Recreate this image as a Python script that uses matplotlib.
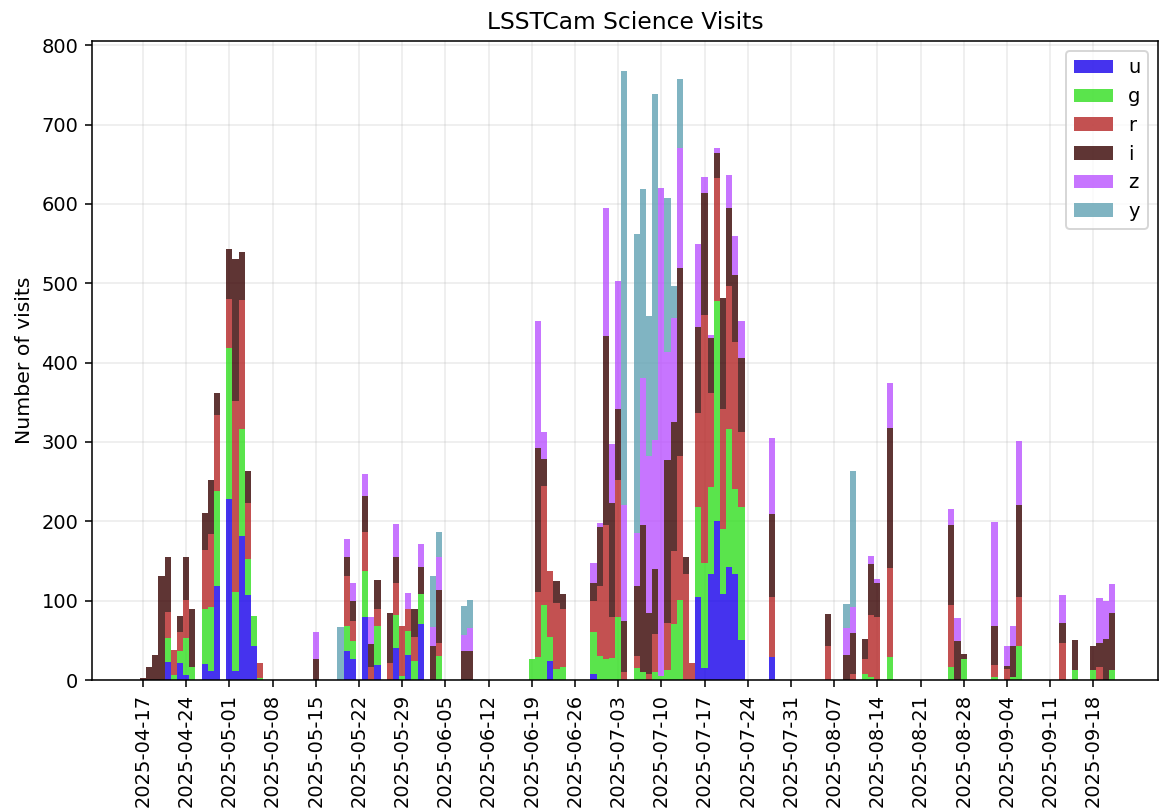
import numpy as np
import matplotlib
matplotlib.use("Agg")
from matplotlib import pyplot as plt
import matplotlib.dates as mdates

# nights (bin centre = midnight UTC, bins run noon to noon)
nights = [
    "2025-04-17", "2025-04-18", "2025-04-19", "2025-04-20", "2025-04-21", "2025-04-22",
    "2025-04-23", "2025-04-24", "2025-04-25", "2025-04-27", "2025-04-28", "2025-04-29",
    "2025-05-01", "2025-05-02", "2025-05-03", "2025-05-04", "2025-05-05", "2025-05-06",
    "2025-05-15", "2025-05-19", "2025-05-20", "2025-05-21", "2025-05-23", "2025-05-24",
    "2025-05-25", "2025-05-27", "2025-05-28", "2025-05-29", "2025-05-30", "2025-05-31",
    "2025-06-01", "2025-06-03", "2025-06-04", "2025-06-08", "2025-06-09",
    "2025-06-19", "2025-06-20", "2025-06-21", "2025-06-22", "2025-06-23", "2025-06-24",
    "2025-06-29", "2025-06-30", "2025-07-01", "2025-07-02", "2025-07-03", "2025-07-04",
    "2025-07-06", "2025-07-07", "2025-07-08", "2025-07-09", "2025-07-10", "2025-07-11",
    "2025-07-12", "2025-07-13", "2025-07-14", "2025-07-15", "2025-07-16", "2025-07-17",
    "2025-07-18", "2025-07-19", "2025-07-20", "2025-07-21", "2025-07-22", "2025-07-23",
    "2025-07-28", "2025-08-06", "2025-08-09", "2025-08-10", "2025-08-12", "2025-08-13",
    "2025-08-14", "2025-08-16", "2025-08-26", "2025-08-27", "2025-08-28",
    "2025-09-02", "2025-09-04", "2025-09-05", "2025-09-06", "2025-09-13", "2025-09-15",
    "2025-09-18", "2025-09-19", "2025-09-20", "2025-09-21",
]

u_visits = [
    0, 0, 0, 0, 23, 0, 22, 6, 0, 20, 11, 118,
    228, 11, 182, 107, 43, 0,
    0, 0, 37, 27, 80, 0, 19, 0, 40, 0, 31, 0, 70, 0, 0, 0, 0,
    0, 0, 0, 24, 0, 0,
    7, 0, 0, 0, 0, 0,
    0, 0, 0, 0, 0, 0, 0, 0, 0, 0, 104, 15,
    134, 200, 108, 142, 133, 51,
    29, 0, 0, 0, 0, 0, 0, 0, 0, 0, 0,
    0, 0, 0, 0, 0, 0, 0, 0, 0, 0,
]
g_visits = [
    0, 0, 0, 0, 30, 6, 15, 47, 16, 69, 81, 120,
    191, 100, 134, 45, 38, 2,
    0, 0, 31, 22, 58, 0, 49, 0, 42, 5, 31, 24, 38, 0, 30, 0, 0,
    26, 29, 94, 30, 14, 17,
    54, 30, 27, 28, 79, 0,
    15, 10, 0, 10, 5, 12, 70, 101, 0, 0, 114, 132,
    109, 278, 82, 174, 108, 167,
    0, 0, 0, 0, 7, 4, 0, 29, 17, 0, 26,
    4, 0, 4, 43, 0, 12, 12, 0, 0, 12,
]
r_visits = [
    0, 0, 0, 0, 33, 32, 23, 48, 0, 75, 92, 96,
    61, 240, 163, 71, 0, 20,
    0, 0, 63, 26, 48, 17, 21, 22, 40, 63, 27, 30, 0, 0, 17, 0, 0,
    0, 82, 151, 84, 83, 72,
    38, 89, 168, 51, 173, 10,
    15, 0, 7, 48, 0, 60, 92, 181, 134, 22, 118, 313,
    119, 155, 151, 181, 185, 94,
    75, 43, 0, 8, 19, 78, 80, 112, 77, 0, 0,
    15, 14, 0, 62, 47, 0, 0, 16, 0, 0,
]
i_visits = [
    3, 16, 31, 131, 69, 0, 21, 54, 73, 47, 68, 28,
    63, 180, 60, 41, 0, 0,
    27, 0, 24, 25, 46, 29, 37, 62, 33, 0, 0, 35, 34, 43, 67, 36, 36,
    0, 181, 34, 0, 28, 20,
    23, 74, 239, 144, 89, 64,
    89, 185, 77, 82, 0, 205, 163, 237, 21, 0, 109, 154,
    69, 31, 140, 98, 85, 94,
    105, 40, 32, 51, 26, 64, 42, 176, 101, 49, 7,
    49, 4, 39, 115, 25, 39, 31, 31, 52, 72,
]
z_visits = [
    0, 0, 0, 0, 0, 0, 0, 0, 0, 0, 0, 0,
    0, 0, 0, 0, 0, 0,
    34, 0, 23, 22, 27, 34, 0, 0, 42, 0, 21, 0, 29, 24, 41, 21, 30,
    0, 161, 34, 0, 0, 0,
    26, 5, 161, 74, 162, 147,
    66, 185, 198, 162, 615, 137, 131, 151, 0, 0, 104, 20,
    4, 6, 0, 42, 49, 46,
    96, 0, 34, 33, 0, 10, 5, 57, 20, 29, 0,
    131, 25, 25, 81, 35, 0, 0, 56, 48, 37,
]
y_visits = [
    0, 0, 0, 0, 0, 0, 0, 0, 0, 0, 0, 0,
    0, 0, 0, 0, 0, 0,
    0, 67, 0, 0, 0, 0, 0, 0, 0, 0, 0, 0, 0, 64, 32, 36, 35,
    0, 0, 0, 0, 0, 0,
    0, 0, 0, 0, 0, 546,
    377, 239, 177, 437, 0, 194, 41, 87, 0, 0, 0, 0,
    0, 0, 0, 0, 0, 0,
    0, 0, 30, 171, 0, 0, 0, 0, 0, 0, 0,
    0, 0, 0, 0, 0, 0, 0, 0, 0, 0,
]

filters = ["u", "g", "r", "i", "z", "y"]
filter_colors = ["#1600ea", "#31de1f", "#b52626", "#370201", "#ba52ff", "#61a2b3"]

centers = mdates.date2num(np.array(nights, dtype="datetime64[D]"))
edges = np.arange(
    mdates.date2num(np.datetime64("2025-04-16T12:00")),
    mdates.date2num(np.datetime64("2025-09-21T12:00")) + 0.5,
    1.0,
)

fig = plt.figure(figsize=(1159 / 140, 808 / 140), dpi=140)
ax = fig.add_subplot(111)
fig.subplots_adjust(left=0.0794, right=0.9991, bottom=0.1584, top=0.9493)

ax.hist(
    [centers] * len(filters),
    bins=edges,
    weights=[u_visits, g_visits, r_visits, i_visits, z_visits, y_visits],
    stacked=True,
    color=filter_colors,
    alpha=0.8,
    label=filters,
)

ticks = np.arange(np.datetime64("2025-04-17"), np.datetime64("2025-09-19"), np.timedelta64(7, "D"))
ax.set_xticks(mdates.date2num(ticks))
ax.xaxis.set_major_formatter(mdates.DateFormatter("%Y-%m-%d"))
plt.setp(ax.get_xticklabels(), rotation=90)
ax.set_xlim(mdates.date2num(np.datetime64("2025-04-08T17:45")),
            mdates.date2num(np.datetime64("2025-09-28T11:30")))

ax.set_axisbelow(True)
ax.grid(alpha=0.25)
ax.set_ylabel("Number of visits", fontsize=10.5)
ax.set_title("LSSTCam Science Visits")
ax.legend(loc="upper right")

fig.savefig("out.png", dpi=140)
